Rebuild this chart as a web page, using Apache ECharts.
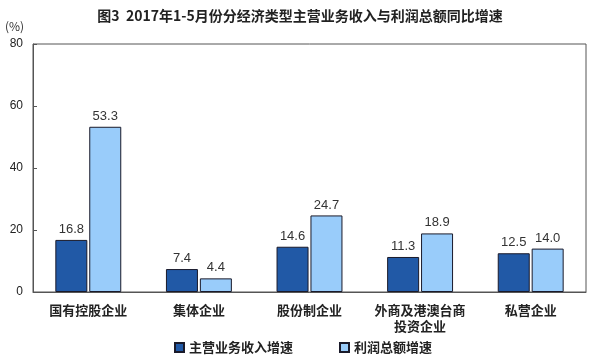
<!DOCTYPE html>
<html><head><meta charset="utf-8">
<script src="https://cdn.jsdelivr.net/npm/echarts@6/dist/echarts.min.js"></script>
<style>html,body{margin:0;padding:0;background:#fff}#c{width:600px;height:363px}</style>
</head><body><div id="c"></div>
<script>
var categories = ['国有控股企业', '集体企业', '股份制企业', '外商及港澳台商\n投资企业', '私营企业'];
var revenueGrowth = [16.8, 7.4, 14.6, 11.3, 12.5];
var profitGrowth = [53.3, 4.4, 24.7, 18.9, 14.0];
var seriesNames = ['主营业务收入增速', '利润总额增速'];
var titleText = '图3  2017年1-5月份分经济类型主营业务收入与利润总额同比增速';

var chart = echarts.init(document.getElementById('c'));
var font = '"Noto Sans CJK SC", sans-serif';
var lbl = {show: true, position: 'top', distance: 4, color: '#333', fontSize: 13, fontFamily: 'Liberation Sans, Arial, sans-serif'};
chart.setOption({
  animation: false,
  title: {text: titleText, left: 'center', top: 4, textStyle: {fontSize: 14, fontWeight: 'bold', color: '#222', fontFamily: font}},
  graphic: [{type: 'text', left: 5, top: 20, style: {text: '(%)', fontSize: 12, fill: '#333', fontFamily: font}}],
  grid: {left: 33, right: 14, top: 44, bottom: 71, show: true, borderColor: '#555', borderWidth: 1},
  legend: {bottom: 4, left: 169, itemWidth: 9, itemHeight: 9, itemGap: 46, icon: 'rect',
    textStyle: {fontSize: 13, color: '#222', fontFamily: font, fontWeight: 'bold'},
    data: seriesNames},
  xAxis: {type: 'category', data: categories,
    axisLine: {lineStyle: {color: '#555'}}, axisTick: {show: false},
    axisLabel: {interval: 0, fontSize: 13, color: '#222', fontFamily: font, margin: 10, fontWeight: 'bold', lineHeight: 16}},
  yAxis: {type: 'value', min: 0, max: 80, interval: 20,
    axisLine: {show: true, lineStyle: {color: '#555'}},
    axisTick: {show: true, inside: true, length: 4, lineStyle: {color: '#555'}},
    splitLine: {show: false},
    axisLabel: {fontSize: 12, color: '#222', margin: 10, fontFamily: 'Liberation Sans, Arial, sans-serif'}},
  series: [
    {name: seriesNames[0], type: 'bar', data: revenueGrowth, barWidth: 32, barGap: '6%',
     itemStyle: {color: '#2159a6', borderColor: '#1a1a2a', borderWidth: 1}, label: lbl},
    {name: seriesNames[1], type: 'bar', data: profitGrowth, barWidth: 32,
     itemStyle: {color: '#99ccfa', borderColor: '#1a1a2a', borderWidth: 1},
     label: Object.assign({}, lbl, {formatter: function(p){return p.value.toFixed(1);}})}
  ]
});
</script></body></html>
